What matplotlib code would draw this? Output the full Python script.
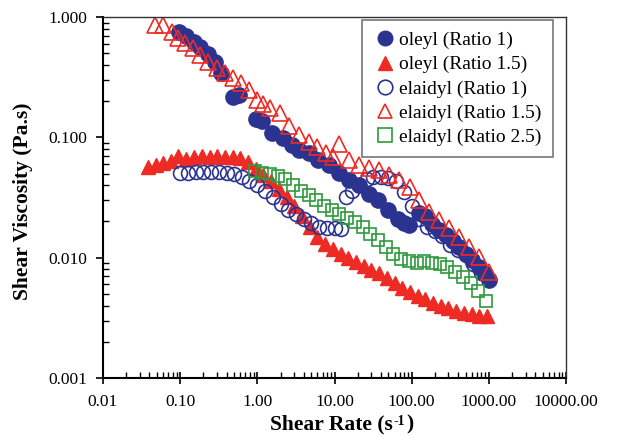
import matplotlib
matplotlib.use("Agg")
import matplotlib.pyplot as plt
from matplotlib.ticker import LogLocator, FixedLocator, FixedFormatter, NullFormatter

# oleyl (Ratio 1) - filled navy circles
oleyl1_x = [0.096, 0.12, 0.15, 0.18, 0.23, 0.28, 0.34, 0.48, 0.58, 0.95, 1.15, 1.55,
            2.15, 2.85, 3.5, 4.7, 6.2, 8.4, 11.3, 15.2, 20.5, 27.6, 37, 50, 67, 80, 92,
            125, 150, 185, 226, 280, 340, 410, 500, 610, 740, 870, 1000]
oleyl1_y = [0.75, 0.70, 0.62, 0.56, 0.49, 0.42, 0.34, 0.215, 0.225, 0.143, 0.138, 0.109,
            0.098, 0.086, 0.078, 0.074, 0.065, 0.059, 0.051, 0.044, 0.040, 0.034, 0.030,
            0.025, 0.021, 0.0195, 0.0187, 0.0235, 0.022, 0.019, 0.017, 0.0153, 0.0137,
            0.0122, 0.0108, 0.0095, 0.0084, 0.0074, 0.0065]

# oleyl (Ratio 1.5) - filled red triangles
oleyl15_x = [0.038, 0.048, 0.06, 0.075, 0.095, 0.12, 0.15, 0.19, 0.24, 0.30, 0.38, 0.48,
             0.60, 0.75, 0.95, 1.2, 1.5, 1.9, 2.4, 3.0, 3.8, 4.8, 6.0, 7.5, 9.5, 12, 15,
             19, 24, 30, 38, 48, 60, 75, 95, 120, 150, 190, 240, 300, 380, 480, 600, 750, 950]
oleyl15_y = [0.057, 0.059, 0.061, 0.063, 0.070, 0.066, 0.069, 0.070, 0.069, 0.070, 0.069,
             0.068, 0.067, 0.062, 0.055, 0.049, 0.043, 0.037, 0.032, 0.027, 0.022, 0.018,
             0.0148, 0.013, 0.0118, 0.0108, 0.0100, 0.0092, 0.0085, 0.0079, 0.0074, 0.0068,
             0.0062, 0.0056, 0.0052, 0.0048, 0.0045, 0.0042, 0.0040, 0.0038, 0.0036,
             0.0035, 0.0034, 0.0033, 0.0033]

# elaidyl (Ratio 1) - open navy circles
elaidyl1_x = [0.10, 0.125, 0.16, 0.20, 0.25, 0.32, 0.40, 0.50, 0.63, 0.79, 1.0, 1.26, 1.58,
              2.0, 2.5, 3.2, 4.0, 5.0, 6.3, 7.9, 10, 12, 14, 17, 21, 26, 32, 40, 50, 63, 79,
              100, 126, 158, 200, 250, 316, 400, 500, 630, 790, 1000]
elaidyl1_y = [0.051, 0.051, 0.052, 0.052, 0.052, 0.052, 0.051, 0.050, 0.047, 0.043, 0.040,
              0.036, 0.032, 0.028, 0.025, 0.023, 0.021, 0.0195, 0.018, 0.0175, 0.0175,
              0.0172, 0.032, 0.036, 0.040, 0.045, 0.047, 0.047, 0.046, 0.043, 0.035, 0.027,
              0.021, 0.018, 0.0165, 0.015, 0.0128, 0.0115, 0.0105, 0.0088, 0.0075, 0.0066]

# elaidyl (Ratio 1.5) - open red triangles
elaidyl15_x = [0.047, 0.060, 0.078, 0.093, 0.115, 0.145, 0.18, 0.23, 0.30, 0.38, 0.48, 0.62,
               0.79, 1.0, 1.2, 1.45, 1.95, 2.6, 3.5, 4.7, 6.0, 7.8, 9.5, 11.5, 15.5, 21, 28,
               38, 51, 69, 95, 125, 166, 226, 303, 410, 554, 743, 1000]
elaidyl15_y = [0.86, 0.86, 0.75, 0.67, 0.61, 0.55, 0.48, 0.42, 0.377, 0.343, 0.311, 0.283,
               0.247, 0.205, 0.19, 0.175, 0.159, 0.125, 0.104, 0.092, 0.083, 0.074, 0.068,
               0.088, 0.065, 0.059, 0.0555, 0.0535, 0.0487, 0.0442, 0.0386, 0.030, 0.0239,
               0.0205, 0.0176, 0.0148, 0.0122, 0.0101, 0.0076]

# elaidyl (Ratio 2.5) - open green squares
elaidyl25_x = [0.92, 1.16, 1.46, 1.84, 2.31, 2.91, 3.66, 4.61, 5.81, 7.31, 9.2, 11.6, 14.6,
               18.4, 23.1, 29.1, 36.6, 46.1, 58.1, 73.1, 92, 116, 146, 184, 231, 291, 366,
               461, 581, 731, 920]
elaidyl25_y = [0.053, 0.051, 0.050, 0.048, 0.045, 0.040, 0.036, 0.033, 0.030, 0.027, 0.025,
               0.023, 0.0214, 0.0198, 0.018, 0.0158, 0.014, 0.0123, 0.0108, 0.0098, 0.0093,
               0.0091, 0.0094, 0.0090, 0.0089, 0.0083, 0.0076, 0.0069, 0.0062, 0.0053, 0.0044]

x_ticks = [0.01, 0.1, 1, 10, 100, 1000, 10000]
x_labels = ["0.01", "0.10", "1.00", "10.00", "100.00", "1000.00", "10000.00"]
y_ticks = [0.001, 0.01, 0.1, 1]
y_labels = ["0.001", "0.010", "0.100", "1.000"]

navy = "#2B3391"
red = "#EE2A24"
green = "#2E9A3C"

plt.rcParams["font.family"] = ["Liberation Serif", "DejaVu Serif"]

fig = plt.figure(figsize=(6.19, 4.36), dpi=100)
ax = fig.add_axes([103 / 619, 1 - 378 / 436, (566 - 103) / 619, (378 - 17) / 436])

ax.plot(oleyl1_x, oleyl1_y, "o", ms=11, color=navy, mec=navy, mew=1, label="oleyl (Ratio 1)")
ax.plot(oleyl15_x, oleyl15_y, "^", ms=10.5, color=red, mec=red, mew=1, label="oleyl (Ratio 1.5)")
ax.plot(elaidyl1_x, elaidyl1_y, "o", ms=10, mfc="none", mec=navy, mew=1.2, label="elaidyl (Ratio 1)")
ax.plot(elaidyl15_x, elaidyl15_y, "^", ms=11, mfc="none", mec=red, mew=1.2, label="elaidyl (Ratio 1.5)")
ax.plot(elaidyl25_x, elaidyl25_y, "s", ms=9, mfc="none", mec=green, mew=1.2, label="elaidyl (Ratio 2.5)")

ax.set_xscale("log")
ax.set_yscale("log")
ax.set_xlim(0.01, 10000)
ax.set_ylim(0.001, 1)

ax.xaxis.set_major_locator(FixedLocator(x_ticks))
ax.xaxis.set_major_formatter(FixedFormatter(x_labels))
ax.yaxis.set_major_locator(FixedLocator(y_ticks))
ax.yaxis.set_major_formatter(FixedFormatter(y_labels))
ax.xaxis.set_minor_locator(LogLocator(base=10, subs=range(2, 10), numticks=20))
ax.yaxis.set_minor_locator(LogLocator(base=10, subs=range(2, 10), numticks=20))
ax.xaxis.set_minor_formatter(NullFormatter())
ax.yaxis.set_minor_formatter(NullFormatter())

ax.tick_params(axis="x", which="major", direction="inout", length=9, width=1.2, labelsize=12.5, pad=7)
ax.tick_params(axis="x", which="minor", direction="in", length=4, width=1)
ax.tick_params(axis="y", which="major", direction="out", length=5, width=1.2, labelsize=12.5, pad=6)
ax.tick_params(axis="y", which="minor", direction="in", length=4, width=1)

for side in ["left", "bottom"]:
    ax.spines[side].set_linewidth(1.5)
for side in ["top", "right"]:
    ax.spines[side].set_linewidth(1.0)
    ax.spines[side].set_color("#333333")

ax.set_ylabel("Shear Viscosity (Pa.s)", fontsize=15.5, fontweight="bold")
ax.yaxis.set_label_coords(-0.152, 0.49)

# x label with a hyphen superscript, built from chained texts
t1 = fig.text(393 / 619, 1 - 429 / 436, "Shear Rate (s", fontsize=15.5, fontweight="bold",
              ha="right", va="baseline")
t2 = ax.annotate("-1", xy=(1, 1), xycoords=t1, xytext=(0.5, -1), textcoords="offset points",
                 fontsize=10, fontweight="bold", ha="left", va="top")
t3 = ax.annotate(")", xy=(1, 0), xycoords=(t2, t1), xytext=(0.5, 0), textcoords="offset points",
                 fontsize=15.5, fontweight="bold", ha="left", va="bottom")
t2.set_annotation_clip(False)
t3.set_annotation_clip(False)

leg = ax.legend(loc="upper right", bbox_to_anchor=(553 / 619, 1 - 20 / 436),
                bbox_transform=fig.transFigure, fontsize=14, frameon=True, fancybox=False,
                edgecolor="#555555", handlelength=1.2, handletextpad=0.1, borderpad=0.6,
                labelspacing=0.33, borderaxespad=0)
leg.get_frame().set_linewidth(1.2)
for h in leg.legend_handles:
    h.set_markersize(10.5)

fig.savefig("out.png", dpi=100)
